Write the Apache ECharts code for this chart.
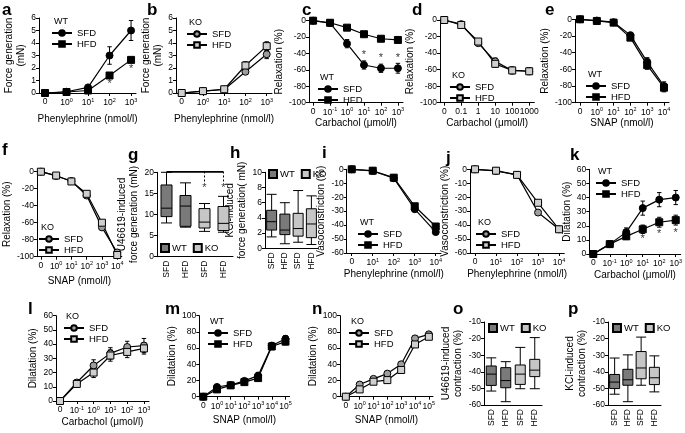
<!DOCTYPE html>
<html><head><meta charset="utf-8">
<script src="https://cdn.jsdelivr.net/npm/echarts@6/dist/echarts.min.js"></script>
<style>html,body{margin:0;padding:0;background:#fff}#c{width:685px;height:433px}</style>
</head><body><div id="c"></div><script>
// ---------- data ----------
const xPE5 = ['0','10^0','10^1','10^2','10^3'];
const xCarb = ['0','10^-1','10^0','10^1','10^2','10^3'];
const xCarbDec = ['0','0.1','1','10','100','1000'];
const xSnap6 = ['0','10^0','10^1','10^2','10^3','10^4'];
const xPE10 = ['0','10^1','10^2','10^3','10^4'];
const xSnap7 = ['0','10^0','10^1','10^2','10^3','10^4','10^5'];
const boxCats = ['SFD','HFD','SFD','HFD'];

const aSFD = [0,0.1,0.45,3.0,5.0],      aSFDerr = [0.05,0.1,0.15,0.7,0.8];
const aHFD = [0,0.08,0.2,1.4,2.65],     aHFDerr = [0.05,0.08,0.1,0.2,0.2];
const aStars = [[3,0.75],[4,1.95]];
const bSFD = [0,0.15,0.28,1.7,3.1],     bSFDerr = [0.05,0.08,0.1,0.15,0.35];
const bHFD = [0,0.15,0.3,2.2,3.75],     bHFDerr = [0.05,0.08,0.1,0.3,0.35];
const cSFD = [0,-3,-28,-54,-58,-58],    cSFDerr = [0,2,5,5,5,6];
const cHFD = [0,-2.5,-8.5,-16.5,-22,-23.5], cHFDerr = [0,1.5,2,3,3,3];
const cStars = [[3,-42],[4,-46],[5,-46]];
const dSFD = [0,-5,-28,-50,-61,-62],    dSFDerr = [0,1,3,4,4,4];
const dHFD = [0,-6,-26,-53,-61,-62],    dHFDerr = [0,1,3,4,4,4];
const eSFD = [0,-1.5,-3.5,-19,-51,-80], eSFDerr = [0,1,1.5,3,5,5];
const eHFD = [0,-2,-4,-22,-55,-82],     eHFDerr = [0,1,1.5,3,5,5];
const fSFD = [0,-5,-11,-28,-65.5,-95],  fSFDerr = [0,1,2,2,2,2];
const fHFD = [0,-4.5,-11.5,-26,-60,-98],fHFDerr = [0,1,2,2,2,2];
const gBox = [[8,9.5,11.5,17,20],[7,7.2,12,14.5,17.5],[6,6.8,8.2,11.4,12.6],[5.8,6.2,7.9,11.9,14.3]];
const gStars = [[2,16.3],[3,16.3]];
const hBox = [[1.5,2.4,3.5,5.0,7.1],[0.6,1.8,2.4,4.5,6.0],[0.8,1.6,2.6,4.6,7.6],[0.5,1.4,3.2,5.2,6.9]];
const iSFD = [0,-1.2,-6.4,-28.6,-45],   iSFDerr = [0,0.8,1,1.5,1.5];
const iHFD = [0,-1,-6,-26.5,-41],       iHFDerr = [0,0.8,1,1.5,1.5];
const jSFD = [0,-1.2,-4,-31,-43],       jSFDerr = [0,0.8,1,1.5,1.5];
const jHFD = [0,-1,-4,-24,-43],         jHFDerr = [0,0.8,1,1.5,1.5];
const kSFD = [0,7,15.5,32.5,38.5,40],   kSFDerr = [0,1,3,5,5,5];
const kHFD = [0,7,12.5,17.5,22.5,24],   kHFDerr = [0,1,2,3,3.5,3.5];
const kStars = [[3,11],[4,14],[5,15]];
const lSFD = [0,13,25,33.5,38,39],      lSFDerr = [0,2,4,4,4,5];
const lHFD = [0,12,20,32,34.5,37],      lHFDerr = [0,2,3.5,4,4,4];
const mSFD = [0,12,14.5,19.5,26,63,71.5], mSFDerr = [0,3,2,3,4,4,4];
const mHFD = [0,9,14,18,23,62,68],      mHFDerr = [0,3,2,3,4,4,4];
const nSFD = [0,15,22,28.5,40,72,77],   nSFDerr = [0,2,2,2,3,3,3];
const nHFD = [0,9,18.5,20.5,33,64.5,74],nHFDerr = [0,2,2,2,3,3,3];
const oBox = [[-51.6,-48.2,-41.4,-36.5,-31.6],[-58,-49.6,-45.3,-37.5,-33.9],[-50.2,-47.6,-41.4,-35.9,-25.3],[-50.2,-42.9,-39,-32.5,-19.4]];
const pBox = [[-53.5,-50.1,-46.2,-41.6,-31.7],[-58,-48.1,-44.8,-38.5,-29.8],[-48.1,-44.2,-37.7,-27.8,-19.1],[-52.1,-47.7,-43.6,-37.3,-30.4]];

// ---------- builders ----------
const FONT = '"Liberation Sans", Arial, sans-serif';
const BLK = '#000';
const WTC = '#7a7a7a', KOC = '#c6c6c6';
const KO_SFD = '#9d9d9d', KO_HFD = '#cfcfcf';
const grids = [], xAxes = [], yAxes = [], series = [], legends = [], graphics = [];

function supFmt(l){ const m = l.split('^'); return m.length > 1 ? m[0] + '{s|' + m[1] + '}' : l; }
function errRender(params, api){
  const x = api.value(0), lo = api.value(1), hi = api.value(2);
  const p1 = api.coord([x, lo]), p2 = api.coord([x, hi]);
  const w = 2.2, st = {stroke: BLK, lineWidth: 1};
  return {type:'group', children:[
    {type:'line', shape:{x1:p1[0],y1:p1[1],x2:p2[0],y2:p2[1]}, style:st},
    {type:'line', shape:{x1:p1[0]-w,y1:p1[1],x2:p1[0]+w,y2:p1[1]}, style:st},
    {type:'line', shape:{x1:p2[0]-w,y1:p2[1],x2:p2[0]+w,y2:p2[1]}, style:st}]};
}
const tickFont = {fontSize: 8.5, color: BLK, fontFamily: FONT};
const nameFont = {fontSize: 10, color: BLK, fontFamily: FONT, lineHeight: 12};

function yAxisCfg(gi, p){
  return {gridIndex: gi, type:'value', min:p.yMin, max:p.yMax, interval:p.yInt,
    axisLine:{show:true, onZero:false, lineStyle:{color:BLK, width:1}},
    axisTick:{show:true, length:3, lineStyle:{color:BLK}},
    axisLabel:Object.assign({margin:3}, tickFont), splitLine:{show:false},
    name:p.yName, nameLocation:'middle', nameRotate:90, nameGap:p.yGap,
    nameTextStyle:nameFont};
}
function letter(ch, x, y){
  graphics.push({type:'text', left:x, top:y, style:{text:ch, font:'bold 17px ' + FONT, fill:BLK}});
}
function stars(gi, pts){
  series.push({type:'scatter', xAxisIndex:gi, yAxisIndex:gi, data:pts, z:6,
    symbolSize:1, itemStyle:{color:'rgba(0,0,0,0)'}, animation:false,
    label:{show:true, position:'inside', formatter:'*', fontSize:11, color:BLK, fontFamily:FONT}});
}
function addLine(p){
  const gi = grids.length;
  grids.push({left:p.left, top:p.top, width:p.width, height:p.height});
  const ticks = p.xLabels.map((_, i) => i);
  xAxes.push({gridIndex:gi, type:'value', min:p.xMin, max:p.xMax,
    axisLine:{onZero:false, lineStyle:{color:BLK, width:1}},
    axisTick:{customValues:ticks, length:3, lineStyle:{color:BLK}},
    axisLabel:Object.assign({customValues:ticks, margin:4,
      formatter: v => supFmt(p.xLabels[Math.round(v)] || ''),
      rich:{s:{fontSize:5.5, color:BLK, fontFamily:FONT, padding:[0,0,5,0]}}}, tickFont),
    splitLine:{show:false},
    name:p.xName, nameLocation:'middle', nameGap:p.xGap || 17, nameTextStyle:nameFont});
  yAxes.push(yAxisCfg(gi, p));
  p.series.forEach(s => {
    series.push({type:'line', name:s.name + '_' + p.id, xAxisIndex:gi, yAxisIndex:gi,
      data:s.data.map((v, i) => [i, v]), symbol:s.symbol, symbolSize:7, z:4,
      lineStyle:{color:BLK, width:1.2}, itemStyle:{color:s.fill, borderColor:BLK, borderWidth:1},
      emphasis:{disabled:true}, animation:false});
    series.push({type:'custom', xAxisIndex:gi, yAxisIndex:gi, renderItem:errRender, z:3,
      encode:{x:0, y:[1,2]}, animation:false,
      data:s.data.map((v, i) => [i, v - s.err[i], v + s.err[i]])});
  });
  if (p.stars) stars(gi, p.stars);
  legends.push({left:p.lg[0], top:p.lg[1], orient:'vertical', itemWidth:20, itemHeight:7, itemGap:1,
    padding:0, selectedMode:false, data:p.series.map(s => s.name + '_' + p.id),
    formatter:n => n.split('_')[0], textStyle:{fontSize:9.5, lineHeight:10, color:BLK, fontFamily:FONT}});
  graphics.push({type:'text', left:p.lg[0] + 3, top:p.lg[1] - 11, style:{text:p.group, font:'9px ' + FONT, fill:BLK}});
  letter(p.id, p.lx, p.ly);
}
function addBox(p){
  const gi = grids.length;
  grids.push({left:p.left, top:p.top, width:p.width, height:p.height});
  xAxes.push({gridIndex:gi, type:'category', data:boxCats, boundaryGap:true,
    axisLine:{onZero:false, lineStyle:{color:BLK}}, axisTick:{show:false},
    axisLabel:Object.assign({rotate:90, margin:4, interval:0}, tickFont)});
  yAxes.push(yAxisCfg(gi, p));
  series.push({type:'boxplot', xAxisIndex:gi, yAxisIndex:gi, boxWidth:[p.bw, p.bw], animation:false,
    data:p.data.map((d, i) => ({value:d, itemStyle:{color:i < 2 ? WTC : KOC, borderColor:BLK, borderWidth:1}}))});
  ['WT','KO'].forEach((g, i) => series.push({type:'bar', name:g + '_' + p.id, xAxisIndex:gi, yAxisIndex:gi, data:[],
    itemStyle:{color:i ? KOC : WTC, borderColor:BLK, borderWidth:1}}));
  legends.push({left:p.lg[0], top:p.lg[1], orient:'horizontal', itemWidth:8, itemHeight:8, itemGap:6, icon:'rect',
    padding:0, selectedMode:false, data:['WT_' + p.id, 'KO_' + p.id], formatter:n => n.split('_')[0],
    textStyle:{fontSize:9.5, color:BLK, fontFamily:FONT, padding:[0,0,0,-2]}});
  if (p.bracket) p.bracket(gi);
  letter(p.id, p.lx, p.ly);
}
const C = 'circle', S = 'rect';

// ---------- panels ----------
addLine({id:'a', group:'WT', left:39, top:18, width:97, height:75, xMin:-0.28, xMax:4.23, xLabels:xPE5,
  yMin:0, yMax:6, yInt:1, yName:'Force generation\n(mN)', yGap:9, xName:'Phenylephrine (nmol/l)', xGap:20,
  series:[{name:'SFD', data:aSFD, err:aSFDerr, symbol:C, fill:BLK},{name:'HFD', data:aHFD, err:aHFDerr, symbol:S, fill:BLK}],
  stars:aStars, lg:[51,28], lx:2, ly:2});
addLine({id:'b', group:'KO', left:176, top:18, width:96, height:75, xMin:-0.27, xMax:4.25, xLabels:xPE5,
  yMin:0, yMax:6, yInt:1, yName:'Force generation\n(mN)', yGap:9, xName:'Phenylephrine (nmol/l)', xGap:20,
  series:[{name:'SFD', data:bSFD, err:bSFDerr, symbol:C, fill:KO_SFD},{name:'HFD', data:bHFD, err:bHFDerr, symbol:S, fill:KO_HFD}],
  lg:[186,29], lx:147, ly:2});
addLine({id:'c', group:'WT', left:309, top:20.7, width:94, height:82, xMin:-0.24, xMax:5.3, xLabels:xCarb,
  yMin:-100, yMax:0, yInt:20, yName:'Relaxation (%)', yGap:20, xName:'Carbachol (μmol/l)', xGap:15,
  series:[{name:'SFD', data:cSFD, err:cSFDerr, symbol:C, fill:BLK},{name:'HFD', data:cHFD, err:cHFDerr, symbol:S, fill:BLK}],
  stars:cStars, lg:[317,84], lx:302, ly:2});
addLine({id:'d', group:'KO', left:440, top:20, width:94.3, height:82.7, xMin:-0.25, xMax:5.3, xLabels:xCarbDec,
  yMin:-100, yMax:0, yInt:20, yName:'Relaxation (%)', yGap:20, xName:'Carbachol (μmol/l)', xGap:15,
  series:[{name:'SFD', data:dSFD, err:dSFDerr, symbol:C, fill:KO_SFD},{name:'HFD', data:dHFD, err:dHFDerr, symbol:S, fill:KO_HFD}],
  lg:[449,82], lx:412, ly:2});
addLine({id:'e', group:'WT', left:575, top:19.3, width:94, height:83.4, xMin:-0.3, xMax:5.3, xLabels:xSnap6,
  yMin:-100, yMax:0, yInt:20, yName:'Relaxation (%)', yGap:20, xName:'SNAP (nmol/l)', xGap:15,
  series:[{name:'SFD', data:eSFD, err:eSFDerr, symbol:C, fill:BLK},{name:'HFD', data:eHFD, err:eHFDerr, symbol:S, fill:BLK}],
  lg:[585,81], lx:545, ly:2});
addLine({id:'f', group:'KO', left:29, top:171.7, width:92.8, height:85, xMin:-0.26, xMax:5.3, xLabels:xSnap6,
  yMin:-100, yMax:0, yInt:20, yName:'Relaxation (%)', yGap:21, xName:'SNAP (nmol/l)', xGap:19,
  series:[{name:'SFD', data:fSFD, err:fSFDerr, symbol:C, fill:KO_SFD},{name:'HFD', data:fHFD, err:fHFDerr, symbol:S, fill:KO_HFD}],
  lg:[38,234], lx:2, ly:142});
addBox({id:'g', left:157, top:172.3, width:76, height:84.4, yMin:0, yMax:20, yInt:5, bw:11,
  yName:'U46619-induced\nforce generation (mN)', yGap:12, data:gBox, lg:[160,243], lx:128, ly:147,
  bracket: gi => {
    series.push({type:'line', xAxisIndex:gi, yAxisIndex:gi, data:[[0,20.2],[3,20.2]], symbol:'none', z:5,
      lineStyle:{color:BLK, width:2.5}, animation:false});
    [2,3].forEach(ix => series.push({type:'line', xAxisIndex:gi, yAxisIndex:gi, data:[[ix,20.2],[ix,17.3]], symbol:'none', z:5,
      lineStyle:{color:BLK, width:1, type:[2,2]}, animation:false}));
    stars(gi, gStars);
  }});
addBox({id:'h', left:265, top:172.3, width:53, height:76, yMin:0, yMax:10, yInt:2, bw:10,
  yName:'KCl-induced\nforce generation( mN)', yGap:10, data:hBox, lg:[268,169], lx:230, ly:145});
addLine({id:'i', group:'WT', left:346.7, top:169.3, width:94.3, height:83.7, xMin:-0.24, xMax:4.25, xLabels:xPE10,
  yMin:-60, yMax:0, yInt:10, yName:'Vasoconstriction (%)', yGap:18, xName:'Phenylephrine (nmol/l)', xGap:15,
  series:[{name:'SFD', data:iSFD, err:iSFDerr, symbol:C, fill:BLK},{name:'HFD', data:iHFD, err:iHFDerr, symbol:S, fill:BLK}],
  lg:[357,229], lx:322, ly:145});
addLine({id:'j', group:'KO', left:470, top:169.3, width:94.3, height:83.7, xMin:-0.24, xMax:4.25, xLabels:xPE10,
  yMin:-60, yMax:0, yInt:10, yName:'Vasoconstriction (%)', yGap:18, xName:'Phenylephrine (nmol/l)', xGap:15,
  series:[{name:'SFD', data:jSFD, err:jSFDerr, symbol:C, fill:KO_SFD},{name:'HFD', data:jHFD, err:jHFDerr, symbol:S, fill:KO_HFD}],
  lg:[475,229], lx:446, ly:150});
addLine({id:'k', group:'WT', left:589.3, top:169.3, width:93.6, height:84.7, xMin:-0.24, xMax:5.3, xLabels:xCarb,
  yMin:0, yMax:60, yInt:10, yName:'Dilatation (%)', yGap:16, xName:'Carbachol (μmol/l)', xGap:15,
  series:[{name:'SFD', data:kSFD, err:kSFDerr, symbol:C, fill:BLK},{name:'HFD', data:kHFD, err:kHFDerr, symbol:S, fill:BLK}],
  stars:kStars, lg:[595,178], lx:570, ly:147});
addLine({id:'l', group:'KO', left:56, top:315.7, width:93, height:85.3, xMin:-0.24, xMax:5.3, xLabels:xCarb,
  yMin:0, yMax:60, yInt:10, yName:'Dilatation (%)', yGap:16, xName:'Carbachol (μmol/l)', xGap:15,
  series:[{name:'SFD', data:lSFD, err:lSFDerr, symbol:C, fill:KO_SFD},{name:'HFD', data:lHFD, err:lHFDerr, symbol:S, fill:KO_HFD}],
  lg:[63,323], lx:28, ly:301});
addLine({id:'m', group:'WT', left:199.3, top:315.7, width:90.3, height:81, xMin:-0.29, xMax:6.3, xLabels:xSnap7,
  yMin:0, yMax:100, yInt:20, yName:'Dilatation (%)', yGap:20, xName:'SNAP (nmol/l)', xGap:18,
  series:[{name:'SFD', data:mSFD, err:mSFDerr, symbol:C, fill:BLK},{name:'HFD', data:mHFD, err:mHFDerr, symbol:S, fill:BLK}],
  lg:[207,328], lx:165, ly:301});
addLine({id:'n', group:'KO', left:340, top:315.7, width:93, height:81, xMin:-0.42, xMax:6.3, xLabels:xSnap7,
  yMin:0, yMax:100, yInt:20, yName:'Dilatation (%)', yGap:20, xName:'SNAP (nmol/l)', xGap:18,
  series:[{name:'SFD', data:nSFD, err:nSFDerr, symbol:C, fill:KO_SFD},{name:'HFD', data:nHFD, err:nHFDerr, symbol:S, fill:KO_HFD}],
  lg:[348,328], lx:312, ly:301});
addBox({id:'o', left:484, top:322, width:58, height:83, yMin:-60, yMax:-10, yInt:10, bw:10,
  yName:'U46619-induced\ncontraction (%)', yGap:20, data:oBox, lg:[488,323], lx:453, ly:301});
addBox({id:'p', left:608, top:322, width:53, height:83, yMin:-60, yMax:-10, yInt:10, bw:10,
  yName:'KCl-induced\ncontraction (%)', yGap:20, data:pBox, lg:[612,323], lx:568, ly:301});

const chart = echarts.init(document.getElementById('c'), null, {renderer:'canvas'});
chart.setOption({animation:false, backgroundColor:'#fff', textStyle:{fontFamily:FONT},
  grid:grids, xAxis:xAxes, yAxis:yAxes, series:series, legend:legends, graphic:{elements:graphics}});
</script></body></html>
